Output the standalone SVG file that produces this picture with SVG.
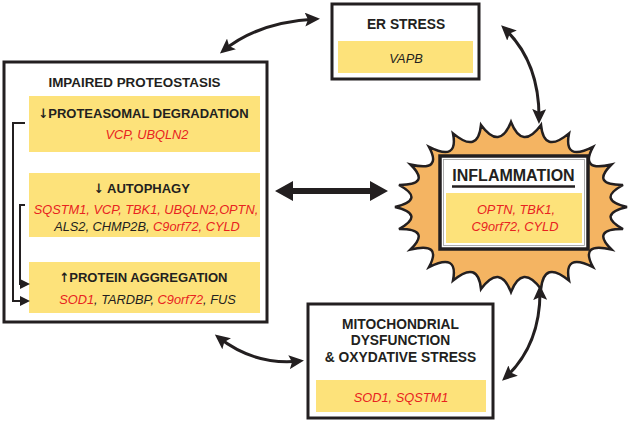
<svg xmlns="http://www.w3.org/2000/svg" width="633" height="423" viewBox="0 0 633 423">
<style>
.box{fill:#fff;stroke:#231f20;stroke-width:3}
.yel{fill:#fde27a}
.t{font-family:"Liberation Sans",Arial,sans-serif;font-weight:bold;fill:#231f20;text-anchor:middle}
.ar{font-family:"DejaVu Sans Condensed","DejaVu Sans",sans-serif;font-weight:bold}
.g{font-family:"Liberation Sans",Arial,sans-serif;font-style:italic;font-size:12.8px;fill:#231f20;text-anchor:middle}
.r{fill:#e8231f}
.con{fill:none;stroke:#231f20;stroke-width:3}
.br{fill:none;stroke:#231f20;stroke-width:2}
</style>
<defs>
<marker id="ah" markerUnits="userSpaceOnUse" markerWidth="16" markerHeight="14" viewBox="0 0 16 14" refX="11" refY="7" orient="auto-start-reverse">
<path d="M0,0 L15,7 L0,14 L3,7 z" fill="#231f20"/>
</marker>
<marker id="sh" markerUnits="userSpaceOnUse" markerWidth="10" markerHeight="10" viewBox="0 0 10 10" refX="7" refY="5" orient="auto">
<path d="M0,0 L10,5 L0,10 z" fill="#231f20"/>
</marker>
</defs>

<g id="connectors">
<path class="con" d="M223,51 Q258,22 316,19" marker-start="url(#ah)" marker-end="url(#ah)"/>
<path class="con" d="M504,28 Q540,62 539,120" marker-start="url(#ah)" marker-end="url(#ah)"/>
<path class="con" d="M540,289 Q541,345 505,378" marker-start="url(#ah)" marker-end="url(#ah)"/>
<path class="con" d="M218,337 Q255,366 300,361" marker-start="url(#ah)" marker-end="url(#ah)"/>
<polygon points="275,191 293,181 293,188 370,188 370,181 388,191 370,201 370,194 293,194 293,201" fill="#231f20"/>
</g>

<g id="impaired-proteostasis">
<rect class="box" x="4" y="62" width="263" height="260"/>
<text class="t" x="134.5" y="87" font-size="13.4">IMPAIRED PROTEOSTASIS</text>
<g id="proteasomal">
<rect class="yel" x="29" y="96" width="231" height="56"/>
<text class="t" x="143.5" y="117.5" font-size="13"><tspan class="ar">↓</tspan>PROTEASOMAL DEGRADATION</text>
<text class="g" x="147" y="139"><tspan class="r">VCP, UBQLN2</tspan></text>
</g>
<g id="autophagy">
<rect class="yel" x="29" y="173" width="231" height="64"/>
<text class="t" x="142" y="192.5" font-size="13"><tspan class="ar">↓</tspan> AUTOPHAGY</text>
<text class="g" x="146" y="214"><tspan class="r">SQSTM1, VCP, TBK1, UBQLN2,OPTN,</tspan></text>
<text class="g" x="147" y="230.5">ALS2, CHMP2B, <tspan class="r">C9orf72, CYLD</tspan></text>
</g>
<g id="protein-aggregation">
<rect class="yel" x="29" y="262" width="231" height="51"/>
<text class="t" x="143.5" y="281.5" font-size="13"><tspan class="ar">↑</tspan>PROTEIN AGGREGATION</text>
<text class="g" x="147.5" y="303.5"><tspan class="r">SOD1</tspan>, TARDBP, <tspan class="r">C9orf72</tspan>, FUS</text>
</g>
<path class="br" d="M25,123 H13 V301 H27" marker-end="url(#sh)"/>
<path class="br" d="M25,205 H20 V284 H27" marker-end="url(#sh)"/>
</g>

<g id="er-stress">
<rect class="box" x="332" y="4" width="147" height="75"/>
<text class="t" x="406" y="29" font-size="13.8">ER STRESS</text>
<rect class="yel" x="338" y="41" width="135" height="32"/>
<text class="g" x="406" y="63">VAPB</text>
</g>

<g id="inflammation">
<path d="M627,207 Q596.3,214.4 623,229 Q590.5,228.8 611.5,249.5 Q579.2,241.7 593,267.1 Q563.4,252.2 569,280.6 Q543.9,259.7 541,289.1 Q522.2,263.5 511,292 Q499.8,263.5 481,289.1 Q478.1,259.7 453,280.6 Q458.6,252.2 429,267.1 Q442.8,241.7 410.5,249.5 Q431.5,228.8 399,229 Q425.7,214.4 395,207 Q425.7,199.6 399,185 Q431.5,185.2 410.5,164.5 Q442.8,172.3 429,146.9 Q458.6,161.8 453,133.4 Q478.1,154.3 481,124.9 Q499.8,150.5 511,122 Q522.2,150.5 541,124.9 Q543.9,154.3 569,133.4 Q563.4,161.8 593,146.9 Q579.2,172.3 611.5,164.5 Q590.5,185.2 623,185 Q596.3,199.6 627,207 Z" fill="#f4b462" stroke="#231f20" stroke-width="2.5" stroke-linejoin="miter"/>
<rect x="440" y="156" width="148" height="93" fill="#fff" stroke="#231f20" stroke-width="3.5"/>
<rect x="443.5" y="159.5" width="141" height="86" fill="none" stroke="#9a9a9a" stroke-width="0.8"/>
<text class="t" x="513.5" y="180.5" font-size="16">INFLAMMATION</text>
<line x1="452" y1="186.5" x2="575" y2="186.5" stroke="#231f20" stroke-width="2.5"/>
<rect class="yel" x="446" y="193" width="136" height="50"/>
<text class="g" x="516" y="214"><tspan class="r">OPTN, TBK1,</tspan></text>
<text class="g" x="515" y="230.5"><tspan class="r">C9orf72, CYLD</tspan></text>
</g>

<g id="mitochondrial">
<rect class="box" x="308" y="304" width="185" height="114"/>
<text class="t" x="400.5" y="328.5" font-size="13.8">MITOCHONDRIAL</text>
<text class="t" x="400.5" y="345" font-size="13.8">DYSFUNCTION</text>
<text class="t" x="400.5" y="361.7" font-size="13.8">&amp; OXYDATIVE STRESS</text>
<rect class="yel" x="316" y="380" width="170" height="32"/>
<text class="g" x="401" y="401.5"><tspan class="r">SOD1, SQSTM1</tspan></text>
</g>
</svg>
